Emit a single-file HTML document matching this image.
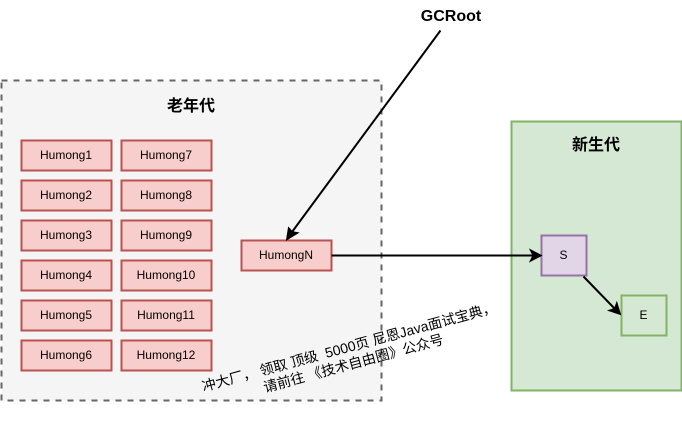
<!DOCTYPE html>
<html>
<head>
<meta charset="utf-8">
<style>
html,body{margin:0;padding:0;background:#fff;width:682px;height:424px;overflow:hidden}
svg{display:block}
text{font-family:"Liberation Sans","Noto Sans CJK SC",sans-serif;fill:#000}
.n{font-size:12px;text-anchor:middle}
.b{font-size:16px;font-weight:bold;text-anchor:middle}
.r{font-size:14px;text-anchor:middle}
.h{fill:#f8cecc;stroke:#b85450;stroke-width:2}
</style>
</head>
<body>
<svg width="682" height="424" viewBox="0 0 682 424" xmlns="http://www.w3.org/2000/svg">
<rect x="1.5" y="80.5" width="380" height="320" fill="#f5f5f5" stroke="#666" stroke-width="2" stroke-dasharray="6 6"/>
<rect x="511.5" y="121.5" width="170" height="269" fill="#d5e8d4" stroke="#82b366" stroke-width="2"/>
<text class="b" x="191" y="111">老年代</text>
<text class="b" x="596" y="150">新生代</text>
<text class="b" x="451" y="21">GCRoot</text>

<rect class="h" x="21.5" y="140.5" width="90" height="30"/><text class="n" x="66" y="159">Humong1</text>
<rect class="h" x="21.5" y="180.5" width="90" height="30"/><text class="n" x="66" y="199">Humong2</text>
<rect class="h" x="21.5" y="220.5" width="90" height="30"/><text class="n" x="66" y="239">Humong3</text>
<rect class="h" x="21.5" y="260.5" width="90" height="30"/><text class="n" x="66" y="279">Humong4</text>
<rect class="h" x="21.5" y="300.5" width="90" height="30"/><text class="n" x="66" y="319">Humong5</text>
<rect class="h" x="21.5" y="340.5" width="90" height="30"/><text class="n" x="66" y="359">Humong6</text>
<rect class="h" x="121.5" y="140.5" width="90" height="30"/><text class="n" x="166" y="159">Humong7</text>
<rect class="h" x="121.5" y="180.5" width="90" height="30"/><text class="n" x="166" y="199">Humong8</text>
<rect class="h" x="121.5" y="220.5" width="90" height="30"/><text class="n" x="166" y="239">Humong9</text>
<rect class="h" x="121.5" y="260.5" width="90" height="30"/><text class="n" x="166" y="279">Humong10</text>
<rect class="h" x="121.5" y="300.5" width="90" height="30"/><text class="n" x="166" y="319">Humong11</text>
<rect class="h" x="121.5" y="340.5" width="90" height="30"/><text class="n" x="166" y="359">Humong12</text>
<rect class="h" x="241.5" y="240.5" width="90" height="30"/><text class="n" x="286" y="259">HumongN</text>

<rect x="541.5" y="235.5" width="45" height="40" fill="#e1d5e7" stroke="#9673a6" stroke-width="2"/><text class="n" x="563.5" y="259">S</text>
<rect x="621.5" y="295.5" width="45" height="40" fill="#d5e8d4" stroke="#82b366" stroke-width="2"/><text class="n" x="643.5" y="319">E</text>

<path d="M440.500 30.500 L292 232" fill="none" stroke="#000" stroke-width="2"/>
<path d="M286.500 240 L288.500 227.500 L292.500 231.800 L298.300 232.800 Z" fill="#000" stroke="#000" stroke-width="1"/>
<path d="M331.500 255.500 L533 255.500" fill="none" stroke="#000" stroke-width="2"/>
<path d="M541.500 255.500 L530 261.500 L533 255.500 L530 249.500 Z" fill="#000" stroke="#000" stroke-width="1"/>
<path d="M583.500 276.500 L615 309" fill="none" stroke="#000" stroke-width="2"/>
<path d="M620.500 314.500 L608.500 310.500 L614.500 308.500 L616.800 302.300 Z" fill="#000" stroke="#000" stroke-width="1"/>

<g transform="translate(351 354.500) rotate(-15.2)">
<text class="r" x="0" y="-3" xml:space="preserve">冲大厂， 领取 顶级  5000页 尼恩Java面试宝典，</text>
<text class="r" x="0" y="14" xml:space="preserve">请前往 《技术自由圈》公众号</text>
</g>
</svg>
</body>
</html>
